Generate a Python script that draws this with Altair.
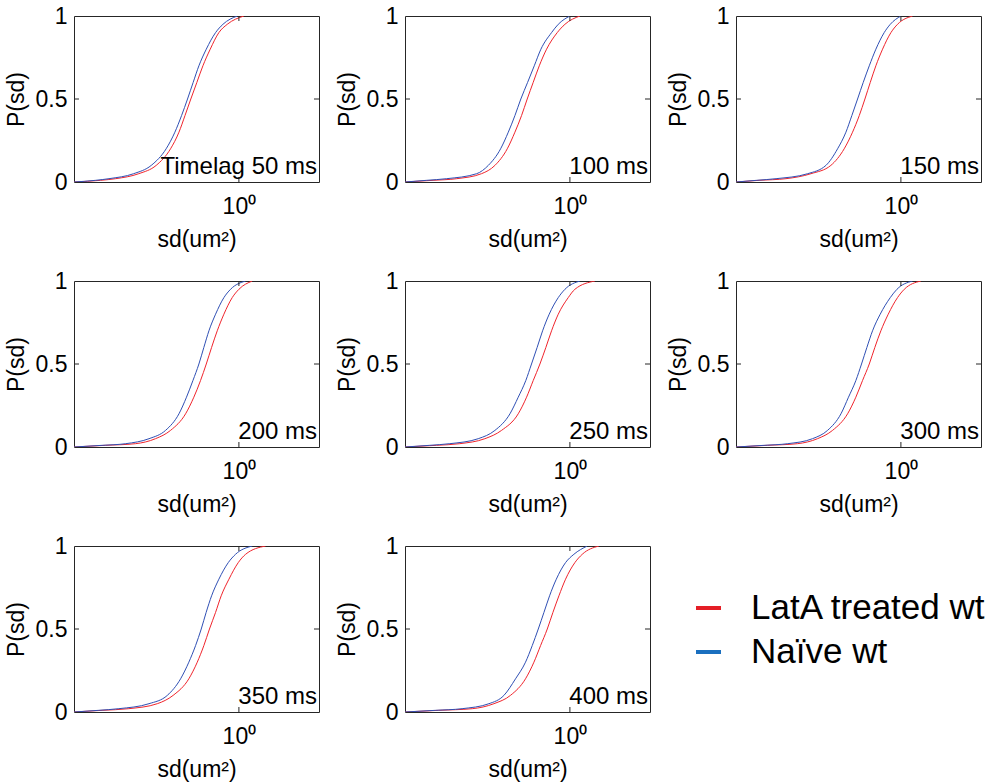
import altair as alt
import pandas as pd

FONT = "Liberation Sans"
SERIES = ["LatA treated wt", "Naïve wt"]
LINE_COLORS = ["#f0242c", "#2f4fb4"]
LEGEND_COLORS = ["#e41e26", "#1a6fbf"]

PANEL_LABELS = ["Timelag 50 ms", "100 ms", "150 ms", "200 ms",
                "250 ms", "300 ms", "350 ms", "400 ms"]

# cumulative probability levels (y) at which sd values were read
P_LEVELS = [0, 0.01, 0.02, 0.05, 0.1, 0.2, 0.3, 0.4, 0.5, 0.6, 0.7, 0.8, 0.9, 0.95, 1]

# sd (um^2) for LatA treated wt, per time lag
LATA_50 = [0.1, 0.145, 0.179, 0.247, 0.315, 0.385, 0.433, 0.471, 0.511, 0.556, 0.605, 0.670, 0.756, 0.850, 1.072]
LATA_100 = [0.1, 0.148, 0.206, 0.291, 0.351, 0.417, 0.464, 0.509, 0.551, 0.599, 0.652, 0.722, 0.838, 0.933, 1.150]
LATA_150 = [0.1, 0.138, 0.201, 0.285, 0.376, 0.453, 0.509, 0.559, 0.605, 0.652, 0.705, 0.774, 0.870, 0.954, 1.177]
LATA_200 = [0.1, 0.155, 0.236, 0.312, 0.385, 0.475, 0.533, 0.585, 0.634, 0.683, 0.739, 0.811, 0.911, 1.000, 1.205]
LATA_250 = [0.1, 0.155, 0.215, 0.305, 0.385, 0.486, 0.546, 0.599, 0.658, 0.715, 0.774, 0.850, 0.977, 1.072, 1.418]
LATA_300 = [0.1, 0.155, 0.236, 0.312, 0.385, 0.475, 0.533, 0.585, 0.643, 0.695, 0.756, 0.838, 0.954, 1.048, 1.322]
LATA_350 = [0.1, 0.148, 0.215, 0.320, 0.399, 0.497, 0.559, 0.613, 0.663, 0.722, 0.781, 0.870, 0.991, 1.098, 1.451]
LATA_400 = [0.1, 0.160, 0.256, 0.346, 0.436, 0.538, 0.605, 0.664, 0.729, 0.789, 0.858, 0.941, 1.072, 1.188, 1.499]

# sd (um^2) for Naive wt, per time lag
NAIVE_50 = [0.1, 0.135, 0.163, 0.230, 0.294, 0.362, 0.409, 0.449, 0.488, 0.528, 0.572, 0.634, 0.722, 0.800, 0.977]
NAIVE_100 = [0.1, 0.135, 0.179, 0.272, 0.320, 0.380, 0.423, 0.464, 0.504, 0.554, 0.608, 0.667, 0.774, 0.850, 1.000]
NAIVE_150 = [0.1, 0.133, 0.175, 0.272, 0.351, 0.413, 0.464, 0.504, 0.546, 0.591, 0.643, 0.705, 0.792, 0.862, 1.000]
NAIVE_200 = [0.1, 0.148, 0.206, 0.285, 0.359, 0.433, 0.481, 0.526, 0.572, 0.613, 0.658, 0.722, 0.811, 0.890, 1.098]
NAIVE_250 = [0.1, 0.141, 0.187, 0.278, 0.351, 0.433, 0.486, 0.540, 0.585, 0.633, 0.683, 0.749, 0.850, 0.933, 1.150]
NAIVE_300 = [0.1, 0.148, 0.206, 0.291, 0.359, 0.433, 0.481, 0.533, 0.577, 0.622, 0.673, 0.749, 0.862, 0.946, 1.177]
NAIVE_350 = [0.1, 0.141, 0.187, 0.285, 0.368, 0.443, 0.497, 0.546, 0.591, 0.633, 0.683, 0.756, 0.862, 0.954, 1.205]
NAIVE_400 = [0.1, 0.153, 0.222, 0.323, 0.398, 0.468, 0.538, 0.591, 0.643, 0.696, 0.753, 0.827, 0.941, 1.057, 1.274]

LATA = [LATA_50, LATA_100, LATA_150, LATA_200, LATA_250, LATA_300, LATA_350, LATA_400]
NAIVE = [NAIVE_50, NAIVE_100, NAIVE_150, NAIVE_200, NAIVE_250, NAIVE_300, NAIVE_350, NAIVE_400]

X_DOMAIN = [0.1, 3.06]
X_TICKS = [1]
Y_TICKS = [0, 0.5, 1]

W, H = 245, 166
FRAME = "#262626"

X_ENC = alt.X("sd:Q",
              scale=alt.Scale(type="log", domain=X_DOMAIN, nice=False, clamp=True),
              axis=alt.Axis(values=X_TICKS, labelExpr="datum.value == 1 ? '10⁰' : ''",
                            title="sd(um²)"))
Y_ENC = alt.Y("P:Q", scale=alt.Scale(domain=[0, 1], nice=False),
              axis=alt.Axis(values=Y_TICKS, format="~g", title="P(sd)"))


def panel(label, lata, naive):
    df = pd.DataFrame({
        "sd": lata + naive,
        "P": P_LEVELS + P_LEVELS,
        "series": [SERIES[0]] * len(lata) + [SERIES[1]] * len(naive),
    })
    lines = alt.Chart(df).mark_line(strokeWidth=1, interpolate="monotone", clip=True).encode(
        x=X_ENC, y=Y_ENC,
        color=alt.Color("series:N", scale=alt.Scale(domain=SERIES, range=LINE_COLORS), legend=None),
    )
    ydf = pd.DataFrame({"P": [0.5]})
    xdf = pd.DataFrame({"sd": X_TICKS})
    tl = alt.Chart(ydf).mark_rule(color=FRAME).encode(y=Y_ENC, x=alt.value(0), x2=alt.value(5))
    tr = alt.Chart(ydf).mark_rule(color=FRAME).encode(y=Y_ENC, x=alt.value(W - 5), x2=alt.value(W))
    tb = alt.Chart(xdf).mark_rule(color=FRAME).encode(x=X_ENC, y=alt.value(H - 5), y2=alt.value(H))
    tt = alt.Chart(xdf).mark_rule(color=FRAME).encode(x=X_ENC, y=alt.value(0), y2=alt.value(5))
    txt = alt.Chart(pd.DataFrame({"label": [label]})).mark_text(
        align="right", baseline="alphabetic", fontSize=24, font=FONT, color="black"
    ).encode(text="label:N", x=alt.value(W - 2), y=alt.value(158))
    return alt.layer(lines, tl, tr, tb, tt, txt).properties(width=W, height=H)


cells = [panel(l, a, n) for l, a, n in zip(PANEL_LABELS, LATA, NAIVE)]

leg_df = pd.DataFrame({"series": SERIES})
leg_y = alt.Y("series:N", scale=alt.Scale(type="point", domain=SERIES, range=[62, 106], padding=0),
              axis=None)
leg_c = alt.Color("series:N", scale=alt.Scale(domain=SERIES, range=LEGEND_COLORS), legend=None)
leg_rule = alt.Chart(leg_df).mark_rule(strokeWidth=4).encode(
    y=leg_y, x=alt.value(-40), x2=alt.value(-15), color=leg_c)
leg_text = alt.Chart(leg_df).mark_text(align="left", baseline="middle", fontSize=35,
                                       font=FONT, color="black").encode(
    y=leg_y, x=alt.value(15), text="series:N")
legend_cell = alt.layer(leg_rule, leg_text).properties(
    width=W, height=H, view=alt.ViewBackground(stroke="transparent"))

chart = alt.concat(*cells, legend_cell, columns=3, spacing={"row": 99, "column": 86}).resolve_scale(
    x="independent", y="independent", color="independent"
).properties(bounds="flush", padding=4, background="white").configure_view(
    stroke=FRAME, strokeWidth=1
).configure_axis(
    labelFont=FONT, titleFont=FONT, labelFontSize=23, titleFontSize=23,
    labelColor="black", titleColor="black", titleFontWeight="normal",
    domain=False, ticks=False, grid=False,
).configure_axisX(labelPadding=13, titlePadding=10).configure_axisY(labelPadding=7, titlePadding=7)

chart.save("out.html", embed_options={"renderer": "svg", "actions": False})
